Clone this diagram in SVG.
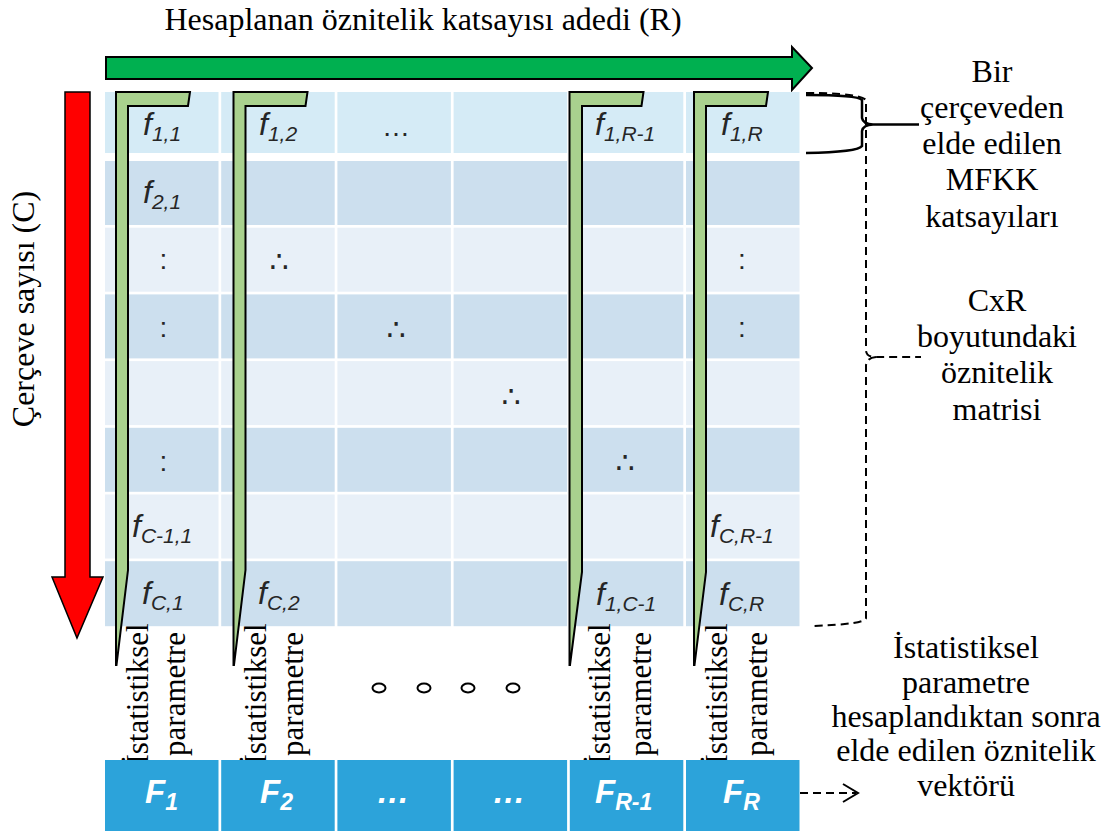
<svg xmlns="http://www.w3.org/2000/svg" width="1113" height="832" viewBox="0 0 1113 832">
<defs>
<style>
.serif{font-family:"Liberation Serif","Times New Roman",serif;font-size:32px;fill:#000}
.f{font-family:"Liberation Sans",Arial,sans-serif;font-style:italic;font-size:32px;fill:#262626}
.sub{font-size:21px}
.F{font-family:"Liberation Sans",Arial,sans-serif;font-style:italic;font-weight:bold;font-size:33px;fill:#fff}
.Fs{font-size:23px}
.dots{font-family:"Liberation Sans",Arial,sans-serif;font-size:28px;fill:#262626;text-anchor:middle}
.tri{font-family:"DejaVu Sans",sans-serif;font-style:italic;font-size:30px;fill:#262626;text-anchor:middle}
.v{font-family:"Liberation Serif","Times New Roman",serif;font-size:31px;fill:#000;text-anchor:middle}
.r1{fill:#D5EBF6}
.r2{fill:#CCDFEE}
.r3{fill:#E8F0F8}
.fv{fill:#2CA3DA}
.br{fill:#A9D18E;stroke:#000;stroke-width:2;stroke-linejoin:miter}
.con{fill:none;stroke:#000;stroke-width:2.5}
.dash{fill:none;stroke:#000;stroke-width:2;stroke-dasharray:8 5}
</style>
</defs>
<rect width="1113" height="832" fill="#fff"/>

<g id="title">
<text class="serif" x="423" y="30" text-anchor="middle">Hesaplanan öznitelik katsayısı adedi (R)</text>
</g>
<g id="left-label">
<text class="serif" transform="translate(34,309) rotate(-90)" text-anchor="middle">Çerçeve sayısı (C)</text>
</g>

<g id="arrow-R">
<polygon points="106,57 792,57 792,47 812,68 792,90 792,79 106,79" fill="#00B050" stroke="#000" stroke-width="2"/>
</g>
<g id="arrow-C">
<polygon points="65,92 90,92 90,577 103,577 77,638 52,577 65,577" fill="#FF0000" stroke="#000" stroke-width="1.5"/>
</g>

<g id="matrix">
<g id="row1">
<rect class="r1" x="105" y="92" width="113.5" height="61"/>
<rect class="r1" x="221.2" y="92" width="113.5" height="61"/>
<rect class="r1" x="337.4" y="92" width="113.5" height="61"/>
<rect class="r1" x="453.6" y="92" width="113.5" height="61"/>
<rect class="r1" x="569.8" y="92" width="113.5" height="61"/>
<rect class="r1" x="686" y="92" width="113.5" height="61"/>
</g>
<g id="row2">
<rect class="r2" x="105" y="161" width="113.5" height="64"/>
<rect class="r2" x="221.2" y="161" width="113.5" height="64"/>
<rect class="r2" x="337.4" y="161" width="113.5" height="64"/>
<rect class="r2" x="453.6" y="161" width="113.5" height="64"/>
<rect class="r2" x="569.8" y="161" width="113.5" height="64"/>
<rect class="r2" x="686" y="161" width="113.5" height="64"/>
</g>
<g id="row3">
<rect class="r3" x="105" y="227.7" width="113.5" height="64"/>
<rect class="r3" x="221.2" y="227.7" width="113.5" height="64"/>
<rect class="r3" x="337.4" y="227.7" width="113.5" height="64"/>
<rect class="r3" x="453.6" y="227.7" width="113.5" height="64"/>
<rect class="r3" x="569.8" y="227.7" width="113.5" height="64"/>
<rect class="r3" x="686" y="227.7" width="113.5" height="64"/>
</g>
<g id="row4">
<rect class="r2" x="105" y="294.4" width="113.5" height="64"/>
<rect class="r2" x="221.2" y="294.4" width="113.5" height="64"/>
<rect class="r2" x="337.4" y="294.4" width="113.5" height="64"/>
<rect class="r2" x="453.6" y="294.4" width="113.5" height="64"/>
<rect class="r2" x="569.8" y="294.4" width="113.5" height="64"/>
<rect class="r2" x="686" y="294.4" width="113.5" height="64"/>
</g>
<g id="row5">
<rect class="r3" x="105" y="361.1" width="113.5" height="64"/>
<rect class="r3" x="221.2" y="361.1" width="113.5" height="64"/>
<rect class="r3" x="337.4" y="361.1" width="113.5" height="64"/>
<rect class="r3" x="453.6" y="361.1" width="113.5" height="64"/>
<rect class="r3" x="569.8" y="361.1" width="113.5" height="64"/>
<rect class="r3" x="686" y="361.1" width="113.5" height="64"/>
</g>
<g id="row6">
<rect class="r2" x="105" y="427.8" width="113.5" height="64"/>
<rect class="r2" x="221.2" y="427.8" width="113.5" height="64"/>
<rect class="r2" x="337.4" y="427.8" width="113.5" height="64"/>
<rect class="r2" x="453.6" y="427.8" width="113.5" height="64"/>
<rect class="r2" x="569.8" y="427.8" width="113.5" height="64"/>
<rect class="r2" x="686" y="427.8" width="113.5" height="64"/>
</g>
<g id="row7">
<rect class="r3" x="105" y="494.5" width="113.5" height="64"/>
<rect class="r3" x="221.2" y="494.5" width="113.5" height="64"/>
<rect class="r3" x="337.4" y="494.5" width="113.5" height="64"/>
<rect class="r3" x="453.6" y="494.5" width="113.5" height="64"/>
<rect class="r3" x="569.8" y="494.5" width="113.5" height="64"/>
<rect class="r3" x="686" y="494.5" width="113.5" height="64"/>
</g>
<g id="row8">
<rect class="r2" x="105" y="561.2" width="113.5" height="65"/>
<rect class="r2" x="221.2" y="561.2" width="113.5" height="65"/>
<rect class="r2" x="337.4" y="561.2" width="113.5" height="65"/>
<rect class="r2" x="453.6" y="561.2" width="113.5" height="65"/>
<rect class="r2" x="569.8" y="561.2" width="113.5" height="65"/>
<rect class="r2" x="686" y="561.2" width="113.5" height="65"/>
</g>
</g>

<g id="brackets">
<polygon id="bracket-1" class="br" points="116,92 190,92 188,106 128,106 128,570 116.5,665 116,665"/>
<polygon id="bracket-2" class="br" points="233.5,92 307.5,92 305.5,106 245.5,106 245.5,570 234,665 233.5,665"/>
<polygon id="bracket-R-1" class="br" points="569.5,92 643.5,92 641.5,106 582,106 582,572 570,665 569.5,665"/>
<polygon id="bracket-R" class="br" points="694,92 768,92 766,106 706,106 706,572 694.5,665 694,665"/>
</g>

<g id="cell-labels">
<text class="f" x="143" y="135">f<tspan class="sub" dy="6">1,1</tspan></text>
<text class="f" x="259" y="135">f<tspan class="sub" dy="6">1,2</tspan></text>
<text class="dots" x="396" y="136">…</text>
<text class="f" x="595" y="135">f<tspan class="sub" dy="6">1,R-1</tspan></text>
<text class="f" x="721" y="135">f<tspan class="sub" dy="6">1,R</tspan></text>
<text class="f" x="143" y="203">f<tspan class="sub" dy="6">2,1</tspan></text>
<text class="dots" x="163.5" y="269">:</text>
<text class="dots" x="742" y="269">:</text>
<text class="dots" x="163.5" y="337">:</text>
<text class="dots" x="742" y="337">:</text>
<text class="dots" x="163.5" y="471">:</text>
<text class="tri" x="279" y="272">∴</text>
<text class="tri" x="396" y="340">∴</text>
<text class="tri" x="511" y="407">∴</text>
<text class="tri" x="625" y="473">∴</text>
<text class="f" x="132" y="537">f<tspan class="sub" dy="6">C-1,1</tspan></text>
<text class="f" x="710" y="537">f<tspan class="sub" dy="6">C,R-1</tspan></text>
<text class="f" x="142" y="604">f<tspan class="sub" dy="6">C,1</tspan></text>
<text class="f" x="258" y="604">f<tspan class="sub" dy="6">C,2</tspan></text>
<text class="f" x="596" y="605">f<tspan class="sub" dy="6">1,C-1</tspan></text>
<text class="f" x="719" y="605">f<tspan class="sub" dy="6">C,R</tspan></text>
</g>

<g id="stat-labels">
<text class="v" transform="translate(148,694) rotate(-90)">İstatistiksel</text>
<text class="v" transform="translate(185,694) rotate(-90)">parametre</text>
<text class="v" transform="translate(266,694) rotate(-90)">İstatistiksel</text>
<text class="v" transform="translate(303,694) rotate(-90)">parametre</text>
<text class="v" transform="translate(610,694) rotate(-90)">İstatistiksel</text>
<text class="v" transform="translate(651,694) rotate(-90)">parametre</text>
<text class="v" transform="translate(727,694) rotate(-90)">İstatistiksel</text>
<text class="v" transform="translate(767,694) rotate(-90)">parametre</text>
</g>

<g id="ellipsis-circles" fill="none" stroke="#000" stroke-width="2">
<ellipse cx="379" cy="688" rx="6.5" ry="4.5"/>
<ellipse cx="424" cy="688" rx="6.5" ry="4.5"/>
<ellipse cx="468" cy="688" rx="6.5" ry="4.5"/>
<ellipse cx="513" cy="688" rx="6.5" ry="4.5"/>
</g>

<g id="feature-vector">
<rect class="fv" x="105" y="760" width="113.5" height="71"/>
<rect class="fv" x="221.2" y="760" width="113.5" height="71"/>
<rect class="fv" x="337.4" y="760" width="113.5" height="71"/>
<rect class="fv" x="453.6" y="760" width="113.5" height="71"/>
<rect class="fv" x="569.8" y="760" width="113.5" height="71"/>
<rect class="fv" x="686" y="760" width="113.5" height="71"/>
<text class="F" x="145" y="803">F<tspan class="Fs" dy="7">1</tspan></text>
<text class="F" x="260" y="803">F<tspan class="Fs" dy="7">2</tspan></text>
<text class="F" x="393" y="803" text-anchor="middle">…</text>
<text class="F" x="509" y="803" text-anchor="middle">…</text>
<text class="F" x="595" y="803">F<tspan class="Fs" dy="7">R-1</tspan></text>
<text class="F" x="723" y="803">F<tspan class="Fs" dy="7">R</tspan></text>
</g>

<g id="connectors">
<path class="con" d="M806,95 Q858,95 862,100 L862,118 Q863,124 873,124.5 L919,124.5 M873,124.5 Q863,125 862,131 L862,146 Q858,152 806,153"/>
<path class="dash" d="M806,93 Q860,93 866,100 L866,350 Q866,357 876,357 L921,357 M876,357 Q866,358 866,366 L866,618 Q866,624 814,626"/>
<line class="dash" x1="800" y1="793" x2="856" y2="793"/>
<polyline points="843,784 858,793 843,802" fill="none" stroke="#000" stroke-width="2"/>
</g>

<g id="note-frame">
<text class="serif" text-anchor="middle"><tspan x="992" y="82">Bir</tspan><tspan x="992" y="118">çerçeveden</tspan><tspan x="992" y="154">elde edilen</tspan><tspan x="992" y="190">MFKK</tspan><tspan x="992" y="227">katsayıları</tspan></text>
</g>
<g id="note-matrix">
<text class="serif" text-anchor="middle"><tspan x="997" y="311">CxR</tspan><tspan x="997" y="347">boyutundaki</tspan><tspan x="997" y="383">öznitelik</tspan><tspan x="997" y="420">matrisi</tspan></text>
</g>
<g id="note-vector">
<text class="serif" text-anchor="middle"><tspan x="966" y="658">İstatistiksel</tspan><tspan x="966" y="693">parametre</tspan><tspan x="966" y="727">hesaplandıktan sonra</tspan><tspan x="966" y="761">elde edilen öznitelik</tspan><tspan x="966" y="796">vektörü</tspan></text>
</g>
</svg>
